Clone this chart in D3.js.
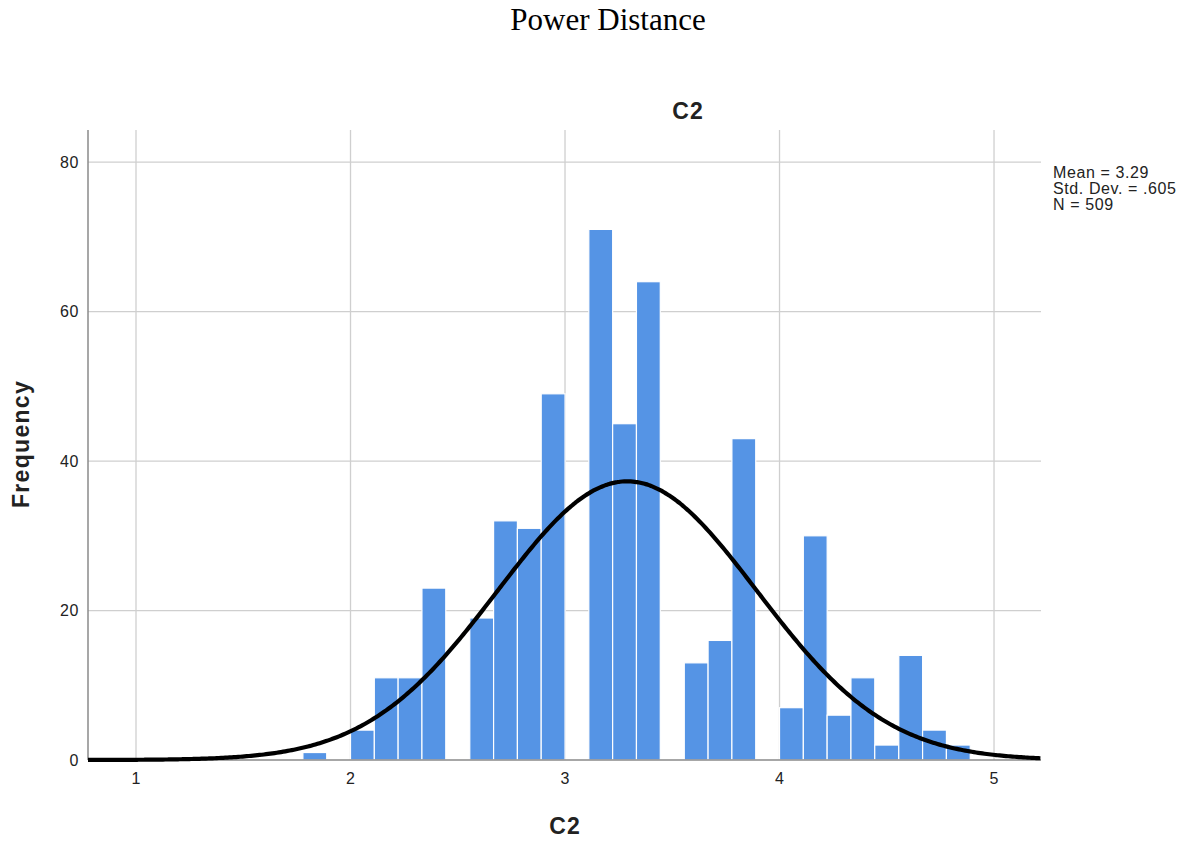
<!DOCTYPE html>
<html>
<head>
<meta charset="utf-8">
<script src="https://cdn.jsdelivr.net/npm/d3@7"></script>
<style>
  body { margin: 0; background: #fff; }
  svg { display: block; }
</style>
</head>
<body>
<div id="chart"></div>
<script>
// histogram bins (left edge of each bin) and counts
const binStarts = [1.778, 1.889, 2.000, 2.111, 2.222, 2.333, 2.444, 2.556, 2.667, 2.778,
                   2.889, 3.000, 3.111, 3.222, 3.333, 3.444, 3.556, 3.667, 3.778, 3.889,
                   4.000, 4.111, 4.222, 4.333, 4.444, 4.556, 4.667, 4.778];
const counts    = [1, 0, 4, 11, 11, 23, 0, 19, 32, 31,
                   49, 0, 71, 45, 64, 0, 13, 16, 43, 0,
                   7, 30, 6, 11, 2, 14, 4, 2];
const binWidth = 1 / 9;

const xTicks = [1, 2, 3, 4, 5];
const yTicks = [0, 20, 40, 60, 80];

const stats = { mean: 3.29, sd: 0.605, n: 509 };
const statLabels = ["Mean = 3.29", "Std. Dev. = .605", "N = 509"];

const W = 1193, H = 846;
const margin = { top: 130, right: 152, bottom: 86, left: 88 };
const sans = "Arial, 'Liberation Sans', sans-serif";

const svg = d3.select("#chart")
    .append("svg")
    .attr("width", W)
    .attr("height", H);

const x = d3.scaleLinear()
    .domain([0.7762, 5.219])
    .range([margin.left, W - margin.right]);

const y = d3.scaleLinear()
    .domain([0, 84.3])
    .range([H - margin.bottom, margin.top]);

// grid lines
svg.append("g")
    .selectAll("line")
    .data(xTicks)
    .enter()
    .append("line")
    .attr("x1", d => x(d))
    .attr("x2", d => x(d))
    .attr("y1", y(0))
    .attr("y2", margin.top)
    .attr("stroke", "#cfcfcf")
    .attr("stroke-width", 1.3);

svg.append("g")
    .selectAll("line")
    .data(yTicks.filter(d => d > 0))
    .enter()
    .append("line")
    .attr("x1", margin.left)
    .attr("x2", W - margin.right)
    .attr("y1", d => y(d))
    .attr("y2", d => y(d))
    .attr("stroke", "#cfcfcf")
    .attr("stroke-width", 1.3);

// bars
const bins = binStarts.map((s, i) => ({ x0: s, x1: s + binWidth, n: counts[i] }))
    .filter(d => d.n > 0);

svg.append("g")
    .selectAll("rect")
    .data(bins)
    .enter()
    .append("rect")
    .attr("x", d => x(d.x0))
    .attr("y", d => y(d.n))
    .attr("width", d => x(d.x1) - x(d.x0))
    .attr("height", d => y(0) - y(d.n))
    .attr("fill", "#5594e5")
    .attr("stroke", "#ffffff")
    .attr("stroke-width", 1.2);

// axes lines
svg.append("line")
    .attr("x1", margin.left)
    .attr("x2", margin.left)
    .attr("y1", margin.top)
    .attr("y2", y(0))
    .attr("stroke", "#8a8a8a")
    .attr("stroke-width", 1.5);

svg.append("line")
    .attr("x1", margin.left)
    .attr("x2", W - margin.right)
    .attr("y1", y(0))
    .attr("y2", y(0))
    .attr("stroke", "#8a8a8a")
    .attr("stroke-width", 1.5);

// normal curve
const scale = stats.n * binWidth / (stats.sd * Math.sqrt(2 * Math.PI));
const curveX = d3.range(x.domain()[0], x.domain()[1] + 0.001, 0.01);
const line = d3.line()
    .x(d => x(d))
    .y(d => y(scale * Math.exp(-0.5 * Math.pow((d - stats.mean) / stats.sd, 2))))
    .curve(d3.curveBasis);

svg.append("path")
    .datum(curveX)
    .attr("d", line)
    .attr("fill", "none")
    .attr("stroke", "#000")
    .attr("stroke-width", 4.2);

// tick labels
svg.append("g")
    .selectAll("text")
    .data(xTicks)
    .enter()
    .append("text")
    .attr("x", d => x(d))
    .attr("y", y(0) + 24)
    .attr("text-anchor", "middle")
    .attr("font-family", sans)
    .attr("font-size", "16px")
    .attr("fill", "#222")
    .text(d => d);

svg.append("g")
    .selectAll("text")
    .data(yTicks)
    .enter()
    .append("text")
    .attr("x", margin.left - 9)
    .attr("y", d => y(d))
    .attr("dy", "0.36em")
    .attr("text-anchor", "end")
    .attr("font-family", sans)
    .attr("font-size", "16px")
    .attr("letter-spacing", "0.6px")
    .attr("fill", "#222")
    .text(d => d);

// titles
svg.append("text")
    .attr("x", 608)
    .attr("y", 30)
    .attr("text-anchor", "middle")
    .attr("font-family", "'Times New Roman', 'Liberation Serif', serif")
    .attr("font-size", "31px")
    .attr("fill", "#000")
    .text("Power Distance");

svg.append("text")
    .attr("x", 688)
    .attr("y", 119)
    .attr("text-anchor", "middle")
    .attr("font-family", sans)
    .attr("font-weight", "bold")
    .attr("font-size", "23px")
    .attr("letter-spacing", "1px")
    .attr("fill", "#222")
    .text("C2");

svg.append("text")
    .attr("x", 565)
    .attr("y", 834)
    .attr("text-anchor", "middle")
    .attr("font-family", sans)
    .attr("font-weight", "bold")
    .attr("font-size", "23px")
    .attr("letter-spacing", "1px")
    .attr("fill", "#222")
    .text("C2");

svg.append("text")
    .attr("transform", "translate(29,444) rotate(-90)")
    .attr("text-anchor", "middle")
    .attr("font-family", sans)
    .attr("font-weight", "bold")
    .attr("font-size", "23px")
    .attr("letter-spacing", "1.3px")
    .attr("fill", "#222")
    .text("Frequency");

// stats box
svg.append("g")
    .selectAll("text")
    .data(statLabels)
    .enter()
    .append("text")
    .attr("x", 1053)
    .attr("y", (d, i) => 178 + i * 16)
    .attr("font-family", sans)
    .attr("font-size", "16px")
    .attr("letter-spacing", "0.6px")
    .attr("fill", "#222")
    .text(d => d);
</script>
</body>
</html>
